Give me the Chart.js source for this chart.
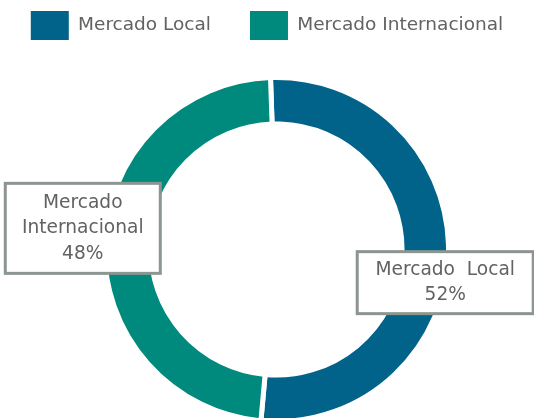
<!DOCTYPE html>
<html>
<head>
<meta charset="utf-8">
<script src="https://cdn.jsdelivr.net/npm/chart.js@4/dist/chart.umd.min.js"></script>
<style>
  html, body { margin: 0; padding: 0; background: #ffffff; overflow: hidden; }
  #wrap { position: relative; width: 534px; height: 418px; }
</style>
</head>
<body>
<div id="wrap"><canvas id="chart"></canvas></div>
<script>
// data
const categories = ['Mercado Local', 'Mercado Internacional'];
const shares = [52, 48];
const calloutLines = [['Mercado  Local'], ['Mercado', 'Internacional']];
const sliceColors = ['#01628A', '#00897D'];

const FONT = '"DejaVu Sans", sans-serif';
const TEXT_COLOR = '#626262';

// callout box placement relative to each slice's mid point
const calloutLayout = [
  { dx: 20, dy: 29, w: 176, h: 62 },
  { dx: -45, dy: -17, w: 155, h: 90 }
];

// the doughnut sits a bit right and runs off the bottom edge in the original
const placeArea = {
  id: 'placeArea',
  afterLayout(chart) {
    const a = chart.chartArea;
    a.left = 19;
    a.right = chart.width;
    a.bottom = chart.height + 31;
    a.width = a.right - a.left;
    a.height = a.bottom - a.top;
  }
};

const callouts = {
  id: 'callouts',
  afterDatasetsDraw(chart) {
    const ctx = chart.ctx;
    const arcs = chart.getDatasetMeta(0).data;
    arcs.forEach((arc, i) => {
      const p = arc.tooltipPosition();
      const box = calloutLayout[i];
      const cx = p.x + box.dx;
      const cy = p.y + box.dy;
      const x0 = cx - box.w / 2;
      const y0 = cy - box.h / 2;

      ctx.save();
      ctx.fillStyle = '#ffffff';
      ctx.fillRect(x0, y0, box.w, box.h);
      ctx.strokeStyle = '#8C9590';
      ctx.lineWidth = 3;
      ctx.strokeRect(x0, y0, box.w, box.h);

      const lines = calloutLines[i].concat([shares[i] + '%']);
      const lineH = 25.5;
      ctx.font = '18.6px ' + FONT;
      ctx.fillStyle = TEXT_COLOR;
      ctx.textAlign = 'center';
      ctx.textBaseline = 'middle';
      const startY = cy - (lines.length - 1) * lineH / 2;
      lines.forEach((t, k) => ctx.fillText(t, cx, startY + k * lineH));
      ctx.restore();
    });
  }
};

new Chart(document.getElementById('chart'), {
  type: 'doughnut',
  data: {
    labels: categories,
    datasets: [{
      data: shares,
      backgroundColor: sliceColors,
      borderColor: '#ffffff',
      borderWidth: 5,
      hoverOffset: 0
    }]
  },
  options: {
    responsive: true,
    maintainAspectRatio: false,
    animation: false,
    rotation: -2,
    radius: 172,
    cutout: '73%',
    // negative sides give the one-row legend enough room
    layout: { padding: { top: -28, bottom: 0, left: -15, right: -15 } },
    plugins: {
      legend: {
        position: 'top',
        labels: {
          boxWidth: 38,
          boxHeight: 29,
          padding: 39,
          color: TEXT_COLOR,
          font: { family: FONT, size: 18.5 },
          generateLabels(chart) {
            const items = Chart.overrides.doughnut.plugins.legend.labels.generateLabels(chart);
            items.forEach(it => { it.lineWidth = 0; });
            return items;
          }
        }
      },
      tooltip: { enabled: false }
    }
  },
  plugins: [placeArea, callouts]
});
</script>
</body>
</html>
